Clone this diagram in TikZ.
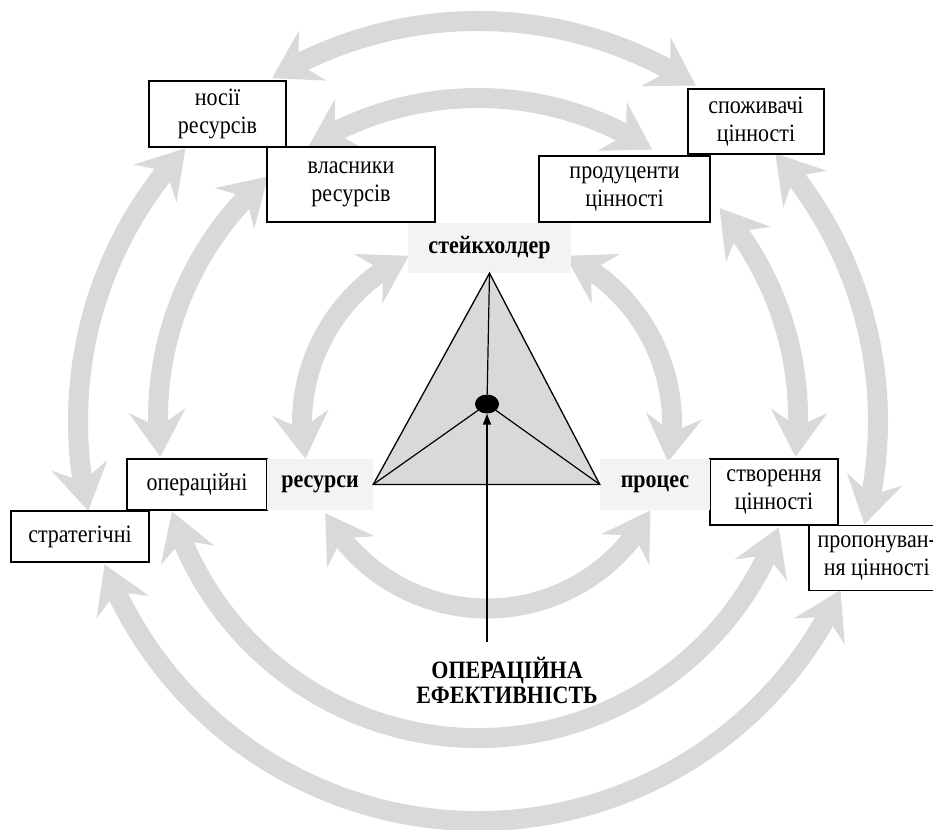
\documentclass[tikz,border=0pt]{standalone}
\usepackage{fontspec}
\setmainfont{Liberation Serif}[FakeStretch=0.88]
\usetikzlibrary{arrows.meta,bending,shapes.geometric}
\definecolor{arcgray}{RGB}{217,217,217}
\definecolor{labelgray}{RGB}{242,244,242}
\begin{document}
\begin{tikzpicture}[x=1pt, y=1pt, font=\fontsize{25}{28}\selectfont,
  ring arrow/.style={draw=arcgray, line width=20pt, {Stealth[length=46pt,width=56pt,inset=16pt,flex]}-{Stealth[length=46pt,width=56pt,inset=16pt,flex]}},
  text box/.style={draw, fill=white, line width=1.5pt, align=center, inner sep=2pt},
  corner node/.style={fill=labelgray, font=\fontsize{25}{28}\selectfont\bfseries, inner sep=0pt}]
\useasboundingbox (0,0) rectangle (933,829);
\coordinate (oc) at (478,408);
\coordinate (mc) at (478,411);
\coordinate (ic) at (487,405.5);
% outer ring
\draw [ring arrow] ([shift={(oc)}]121:400) arc[start angle=121, end angle=57, radius=400];
\draw [ring arrow] ([shift={(oc)}]42:400) arc[start angle=42, end angle=-15, radius=400];
\draw [ring arrow] ([shift={(oc)}]-25:400) arc[start angle=-25, end angle=-159, radius=400];
\draw [ring arrow] ([shift={(oc)}]193:400) arc[start angle=193, end angle=137, radius=400];
% middle ring
\draw [ring arrow] ([shift={(mc)}]122:320) arc[start angle=122, end angle=57, radius=320];
\draw [ring arrow] ([shift={(mc)}]41:320) arc[start angle=41, end angle=-7, radius=320];
\draw [ring arrow] ([shift={(mc)}]-20:320) arc[start angle=-20, end angle=-163, radius=320];
\draw [ring arrow] ([shift={(mc)}]187:320) arc[start angle=187, end angle=131, radius=320];
% inner ring
\draw [ring arrow] ([shift={(ic)}]191:185) arc[start angle=191, end angle=115, radius=185];
\draw [ring arrow] ([shift={(ic)}]65:185) arc[start angle=65, end angle=-12, radius=185];
\draw [ring arrow] ([shift={(ic)}]209:185) arc[start angle=209, end angle=332, radius=185];
% boxes
\node (nosii) [text box, minimum width=137pt, minimum height=66pt] at (217.5,715) {носії\\ресурсів};
\node (vlasnyky) [text box, minimum width=168pt, minimum height=75pt] at (351,644.5) {власники\\ресурсів};
\node (spozhyvachi) [text box, minimum width=136pt, minimum height=65pt] at (756,707.5) {споживачі\\цінності};
\node (produtsenty) [text box, minimum width=171pt, minimum height=66pt] at (624.5,640) {продуценти\\цінності};
\node (operatsiini) [text box, minimum width=140pt, minimum height=51pt] at (197,344.5) {операційні};
\node (stratehichni) [text box, minimum width=138pt, minimum height=51pt] at (80,292.5) {стратегічні};
\node (stvorennia) [text box, minimum width=128pt, minimum height=66pt] at (774,337) {створення\\цінності};
\node (proponuvannia) [text box, minimum width=136pt, minimum height=65pt, anchor=north west] at (808,304) {пропонуван-\\ня цінності};
\node (stakeholder) [corner node, minimum width=163pt, minimum height=50pt] at (489.5,581) {стейкхолдер};
\node (resursy) [corner node, minimum width=106pt, minimum height=51pt] at (320,344.5) {ресурси};
\node (protses) [corner node, minimum width=110pt, minimum height=51pt] at (655,344.5) {процес};
% triangle
\draw [fill=arcgray, line width=1.3pt] (stakeholder.south) -- (resursy.east) -- (protses.west) -- cycle;
\node (centre dot) [ellipse, fill=black, minimum width=24pt, minimum height=19pt, inner sep=0pt] at (487,425) {};
\draw [line width=1.2pt] (centre dot) -- (stakeholder.south);
\draw [line width=1.2pt] (centre dot) -- (resursy.east);
\draw [line width=1.2pt] (centre dot) -- (protses.west);
\node (efficiency) [font=\fontsize{25}{25}\selectfont\bfseries, align=center] at (507,149) {ОПЕРАЦІЙНА\\ЕФЕКТИВНІСТЬ};
\coordinate (arrow foot) at (487,187);
\draw [line width=1.5pt, -{Triangle[length=11pt,width=8pt]}] (arrow foot) -- (centre dot.south);
\end{tikzpicture}
\end{document}
